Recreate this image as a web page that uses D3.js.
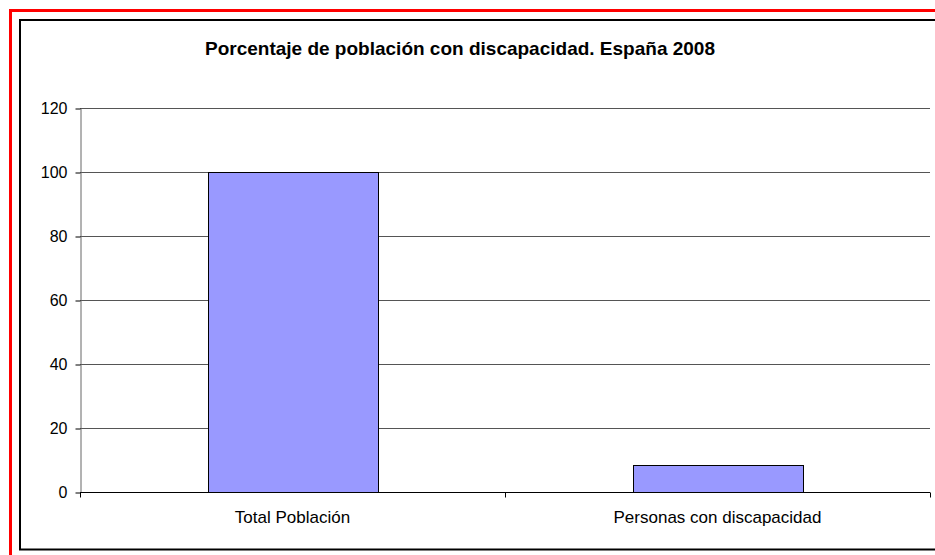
<!DOCTYPE html>
<html>
<head>
<meta charset="utf-8">
<script src="https://cdn.jsdelivr.net/npm/d3@7"></script>
<style>
  body { margin: 0; background: #fff; }
  svg { display: block; font-family: "Liberation Sans", Arial, sans-serif; }
</style>
</head>
<body>
<svg id="chart" width="935" height="555"></svg>
<script>
// chart data
const categories = ["Total Población", "Personas con discapacidad"];
const values = [100, 8.5];
const yTicks = [0, 20, 40, 60, 80, 100, 120];
const title = "Porcentaje de población con discapacidad. España 2008";

const svg = d3.select("#chart");
const margin = {left: 80, top: 108, right: 5, bottom: 63};
const width = 935, height = 555;

// outer frames
svg.append("rect")
  .attr("x", 10.5).attr("y", 10.5)
  .attr("width", 940).attr("height", 560)
  .attr("fill", "none").attr("stroke", "#ff0000").attr("stroke-width", 3);
svg.append("rect")
  .attr("x", 20).attr("y", 20)
  .attr("width", 930).attr("height", 529.5)
  .attr("fill", "none").attr("stroke", "#000").attr("stroke-width", 2);

const xScale = d3.scaleBand()
  .domain(categories)
  .range([margin.left, width - margin.right])
  .paddingInner(0.6).paddingOuter(0.3);

const yScale = d3.scaleLinear()
  .domain([0, 120])
  .range([height - margin.bottom, margin.top]);

// gridlines
svg.append("g")
  .selectAll("line")
  .data(yTicks.filter(d => d > 0))
  .enter()
  .append("line")
  .attr("x1", margin.left).attr("x2", width - margin.right)
  .attr("y1", d => Math.round(yScale(d)) + 0.5)
  .attr("y2", d => Math.round(yScale(d)) + 0.5)
  .attr("stroke", "#555").attr("stroke-width", 1);

// bars
svg.append("g")
  .selectAll("rect")
  .data(values)
  .enter()
  .append("rect")
  .attr("x", (d, i) => Math.round(xScale(categories[i])) + 0.5)
  .attr("y", d => Math.round(yScale(d)) + 0.5)
  .attr("width", xScale.bandwidth())
  .attr("height", d => Math.round(yScale(0)) - Math.round(yScale(d)))
  .attr("fill", "#9999ff")
  .attr("stroke", "#000").attr("stroke-width", 1);

// y axis
const yAxis = svg.append("g")
  .attr("transform", `translate(${margin.left + 0.5},0.5)`)
  .call(d3.axisLeft(yScale).tickValues(yTicks).tickSize(5).tickPadding(8).tickSizeOuter(0));
yAxis.select(".domain").attr("stroke", "#666");
yAxis.selectAll(".tick line").attr("stroke", "#000");
yAxis.selectAll(".tick text")
  .attr("font-size", "16px").attr("fill", "#000")
  .attr("font-family", "Liberation Sans, Arial, sans-serif");

// x axis
const xBase = Math.round(yScale(0)) + 0.5;
svg.append("line")
  .attr("x1", margin.left).attr("x2", width - margin.right)
  .attr("y1", xBase).attr("y2", xBase)
  .attr("stroke", "#000");
const xEdges = [margin.left, (margin.left + width - margin.right) / 2, width - margin.right];
svg.append("g")
  .selectAll("line")
  .data(xEdges)
  .enter()
  .append("line")
  .attr("x1", d => Math.round(d) + 0.5).attr("x2", d => Math.round(d) + 0.5)
  .attr("y1", xBase).attr("y2", xBase + 5)
  .attr("stroke", "#000");

svg.append("g")
  .selectAll("text")
  .data(categories)
  .enter()
  .append("text")
  .attr("x", d => xScale(d) + xScale.bandwidth() / 2)
  .attr("y", 523)
  .attr("text-anchor", "middle")
  .attr("font-size", "17px")
  .text(d => d);

// title
svg.append("text")
  .attr("x", 460)
  .attr("y", 55)
  .attr("text-anchor", "middle")
  .attr("font-size", "19px")
  .attr("font-weight", "bold")
  .text(title);
</script>
</body>
</html>
